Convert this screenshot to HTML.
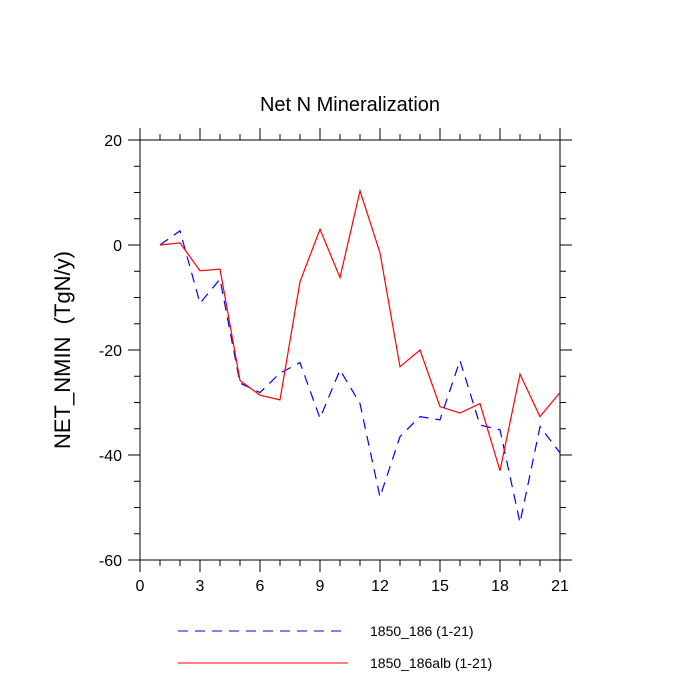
<!DOCTYPE html>
<html><head><meta charset="utf-8"><style>
html,body{margin:0;padding:0;background:#fff;}
svg{display:block;font-family:"Liberation Sans",Arial,sans-serif;}
</style></head><body>
<svg id="chart" width="700" height="700">
<text x="350" y="111" font-size="20" text-anchor="middle">Net N Mineralization</text>
<text transform="translate(70,350) rotate(-90)" font-size="22" text-anchor="middle">NET_NMIN&#160; (TgN/y)</text>
<rect x="140" y="140" width="420" height="420" fill="none" stroke="#000" stroke-width="1"/>
<g id="ticks"></g>
<g id="series"></g>
<line x1="178" y1="631" x2="348" y2="631" stroke="#0000ff" stroke-dasharray="10,7"/>
<text x="370" y="636" font-size="14">1850_186 (1-21)</text>
<line x1="178" y1="663" x2="348" y2="663" stroke="#ff0000"/>
<text x="370" y="668" font-size="14">1850_186alb (1-21)</text>
</svg>
<script>
const xValues=[1,2,3,4,5,6,7,8,9,10,11,12,13,14,15,16,17,18,19,20,21];
const blueValues=[0,2.7,-11.1,-6.5,-26.3,-28.1,-24.4,-22.4,-33,-23.8,-30.2,-48,-36.5,-32.7,-33.3,-22,-34.3,-35.2,-52.9,-34.6,-39.6];
const redValues=[0,0.4,-4.9,-4.6,-25.8,-28.6,-29.5,-7,3,-6.2,10.3,-1.5,-23.2,-20,-30.8,-32,-30.2,-43,-24.6,-32.7,-28.1];
const xTicks=[0,3,6,9,12,15,18,21];
const yTicks=[20,0,-20,-40,-60];
const NS='http://www.w3.org/2000/svg';
function sx(v){return 140+v*20;}
function sy(v){return 245-v*5.25;}
const tg=document.getElementById('ticks');
function ln(x1,y1,x2,y2,name){const l=document.createElementNS(NS,'line');l.setAttribute('x1',x1);l.setAttribute('y1',y1);l.setAttribute('x2',x2);l.setAttribute('y2',y2);l.setAttribute('stroke','#000');


tg.appendChild(l);}
function tx(x,y,s,anchor,name){const t=document.createElementNS(NS,'text');t.setAttribute('x',x);t.setAttribute('y',y);t.setAttribute('font-size','16');t.setAttribute('text-anchor',anchor);t.textContent=s;


tg.appendChild(t);}
for(let i=0;i<=21;i++){const maj=i%3===0;const L=maj?12:6;const x=sx(i);
ln(x,560,x,560+L,'x-tick');ln(x,140,x,140-L,'x-tick-top');}
for(let v=20;v>=-60;v-=5){const maj=v%20===0;const L=maj?12:6;const y=sy(v);
ln(140,y,140-L,y,'y-tick');ln(560,y,560+L,y,'y-tick-right');}
xTicks.forEach(v=>tx(sx(v),591,String(v),'middle','x-tick-label'));
yTicks.forEach(v=>tx(122,sy(v)+6,String(v),'end','y-tick-label'));
const sg=document.getElementById('series');
function path(vals,color,dash,name){const p=document.createElementNS(NS,'polyline');
p.setAttribute('points',vals.map((v,i)=>sx(xValues[i])+','+sy(v)).join(' '));
p.setAttribute('fill','none');p.setAttribute('stroke',color);p.setAttribute('stroke-width','1.2');
if(dash)p.setAttribute('stroke-dasharray',dash);


sg.appendChild(p);}
path(blueValues,'#0000ff','10,7','series-1850-186');
path(redValues,'#ff0000',null,'series-1850-186alb');
</script>
</body></html>
